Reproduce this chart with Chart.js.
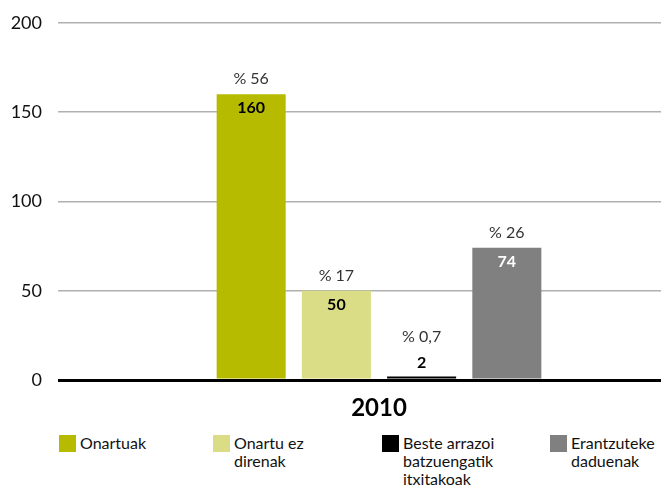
<!DOCTYPE html>
<html>
<head>
<meta charset="utf-8">
<script src="https://cdn.jsdelivr.net/npm/chart.js@4.4.0/dist/chart.umd.min.js"></script>
<style>
    html, body { margin: 0; padding: 0; background: #fff; overflow: hidden; }
    body { width: 661px; height: 488px; position: relative; font-family: Lato, "Open Sans", sans-serif; }
    #wrap { position: absolute; left: 0; top: -4px; width: 700px; height: 425px; }
    .legend-item { position: absolute; top: 434px; display: flex; align-items: flex-start; font-size: 16px; line-height: 18px; color: #111; }
    .legend-box { width: 17px; height: 17px; margin-right: 4px; margin-top: 1px; flex: none; }
</style>
</head>
<body>
<div id="wrap"><canvas id="chart" width="700" height="425"></canvas></div>
<div id="legend"></div>
<script>
// Chart data
const categories = ['2010'];
const seriesNames = ['Onartuak', 'Onartu ez\ndirenak', 'Beste arrazoi\nbatzuengatik\nitxitakoak', 'Erantzuteke\ndaduenak'];
const seriesValues = [160, 50, 2, 74];
const seriesPercents = ['% 56', '% 17', '% 0,7', '% 26'];
const seriesColors = ['#b7bb00', '#dbdd86', '#000000', '#808080'];
const valueLabelColors = ['#000', '#000', '#000', '#fff'];
const yTicks = [0, 50, 100, 150, 200];

// Legend x positions (left edge of each box)
const legendLeft = [59, 213, 382, 550];

function buildLegend() {
    const legendEl = document.getElementById('legend');
    seriesNames.forEach((name, i) => {
        const item = document.createElement('div');
        item.className = 'legend-item';
        item.style.left = legendLeft[i] + 'px';
        const box = document.createElement('div');
        box.className = 'legend-box';
        box.style.background = seriesColors[i];
        const txt = document.createElement('div');
        txt.innerHTML = name.split('\n').join('<br>');
        item.appendChild(box);
        item.appendChild(txt);
        legendEl.appendChild(item);
    });
}

// Draw percent above bars and value in/above bars
const barLabels = {
    id: 'barLabels',
    afterDatasetsDraw(chart) {
        const ctx = chart.ctx;
        ctx.save();
        ctx.textAlign = 'center';
        ctx.textBaseline = 'middle';
        chart.data.datasets.forEach((ds, i) => {
            const bar = chart.getDatasetMeta(i).data[0];
            if (!bar) return;
            const small = (bar.base - bar.y) < 25;
            const valueY = small ? bar.y - 14 : bar.y + 14;
            const pctY = small ? bar.y - 40 : bar.y - 15;
            ctx.font = '400 16px Lato, sans-serif';
            ctx.fillStyle = '#333';
            ctx.fillText(seriesPercents[i], bar.x, pctY);
            ctx.font = 'bold 16px Lato, sans-serif';
            ctx.fillStyle = small ? '#000' : valueLabelColors[i];
            ctx.fillText(String(ds.data[0]), bar.x, valueY);
        });
        ctx.restore();
    }
};

function createChart() {
    const ctx = document.getElementById('chart').getContext('2d');
    const datasets = seriesValues.map((v, i) => ({
        label: seriesNames[i],
        data: [v],
        backgroundColor: seriesColors[i],
        borderWidth: 0,
        categoryPercentage: 0.531,
        barPercentage: 0.81
    }));

    new Chart(ctx, {
        type: 'bar',
        data: { labels: categories, datasets },
        options: {
            responsive: false,
            animation: false,
            layout: { padding: { top: 17, left: 0, right: 0, bottom: 0 } },
            plugins: {
                legend: { display: false },
                tooltip: { enabled: false }
            },
            scales: {
                x: {
                    grid: { display: false },
                    border: { display: false },
                    ticks: {
                        color: '#000',
                        font: { family: 'Lato', size: 24, weight: 'bold' },
                        padding: 6
                    },
                    afterFit(scale) { scale.height = 41; }
                },
                y: {
                    min: 0,
                    max: 200,
                    afterBuildTicks(scale) { scale.ticks = yTicks.map(v => ({ value: v })); },
                    border: { display: false },
                    grid: {
                        drawTicks: false,
                        color: c => c.tick.value === 0 ? '#000' : '#b0b0b0',
                        lineWidth: c => c.tick.value === 0 ? 3 : 1.5
                    },
                    ticks: {
                        color: '#111',
                        font: { family: 'Lato', size: 18 },
                        padding: 16
                    },
                    afterFit(scale) { scale.width = 58; }
                }
            }
        },
        plugins: [barLabels]
    });
}

buildLegend();
createChart();
</script>
</body>
</html>
